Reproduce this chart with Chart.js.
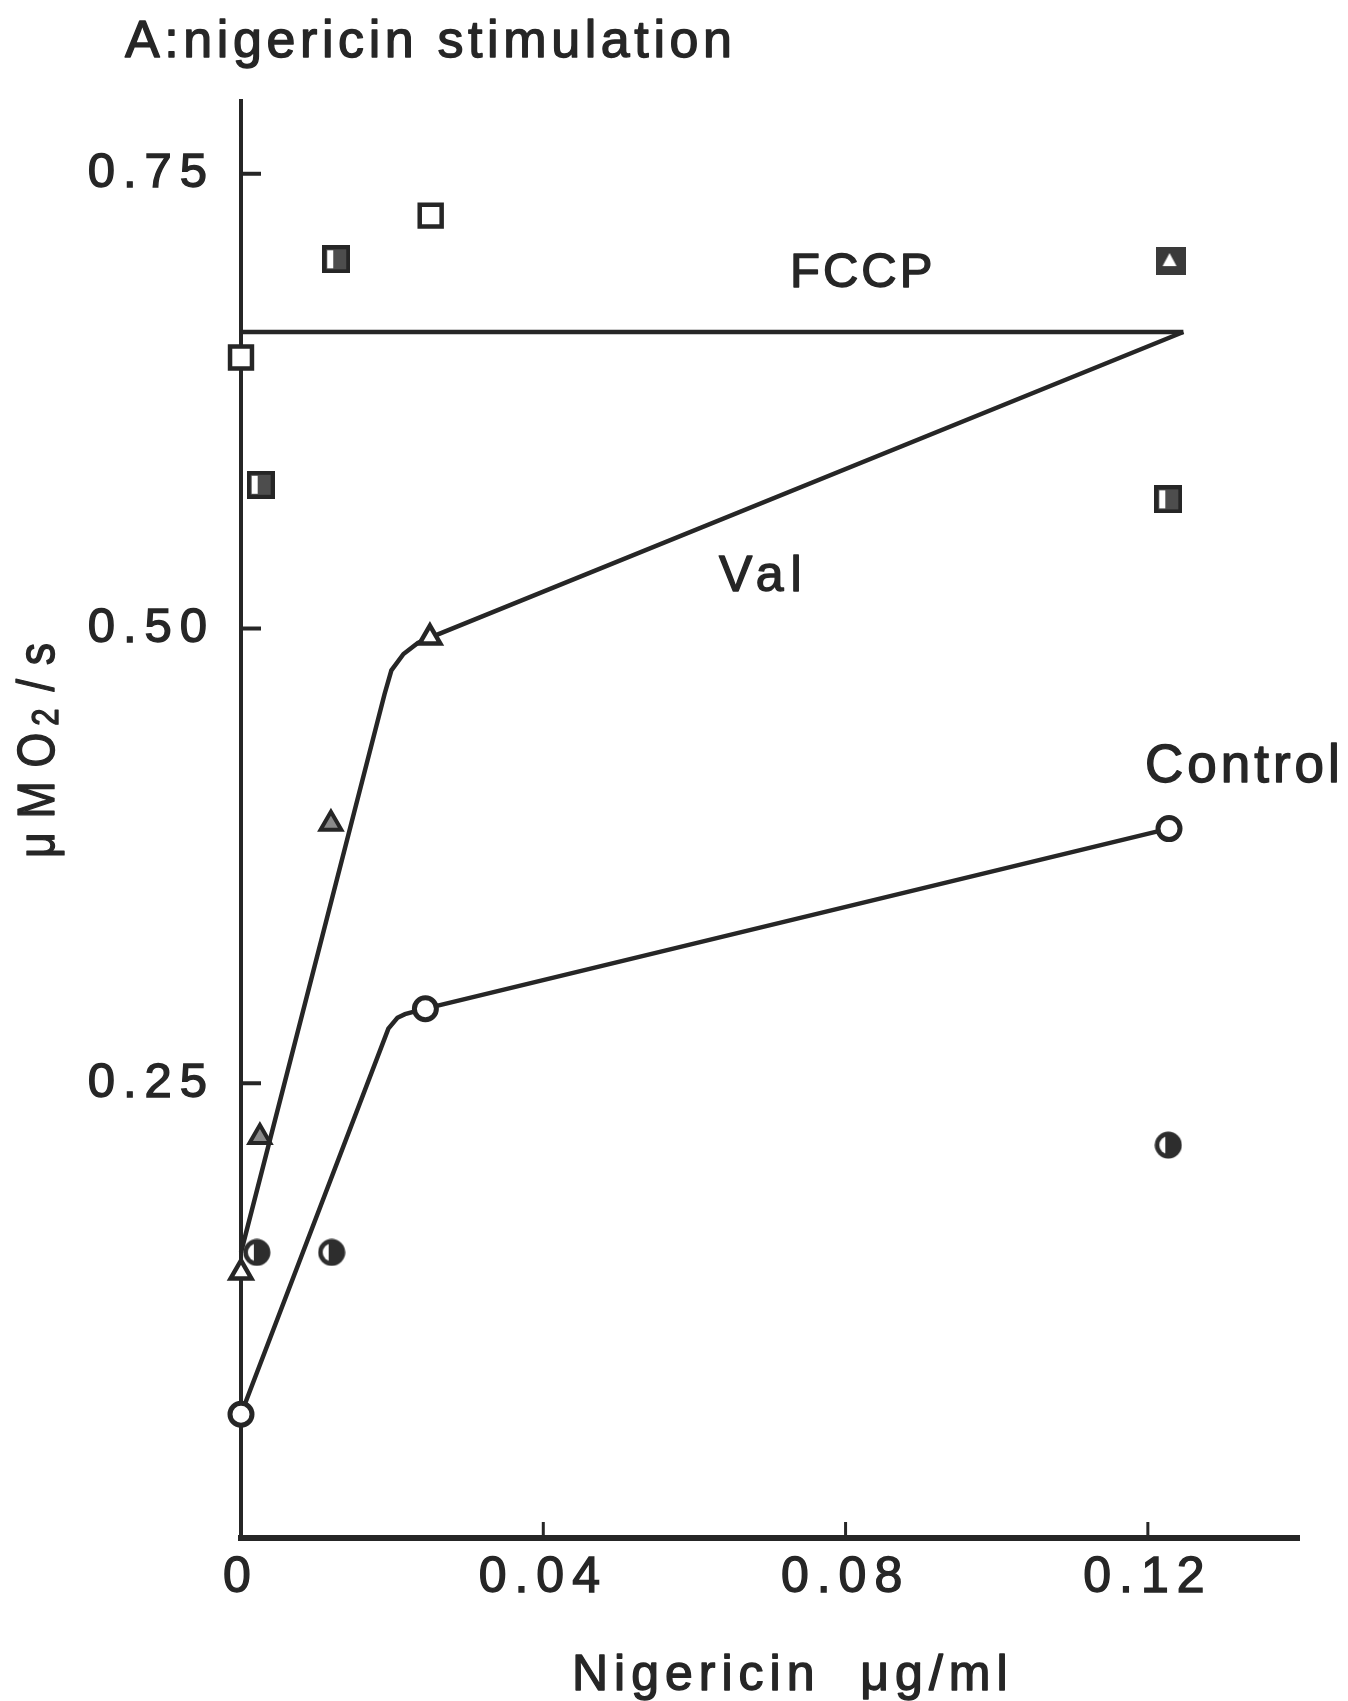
<!DOCTYPE html>
<html>
<head>
<meta charset="utf-8">
<script src="https://cdn.jsdelivr.net/npm/chart.js@4.4.1/dist/chart.umd.min.js"></script>
<style>
  html, body { margin: 0; padding: 0; background: #fff; }
  #wrap { width: 1348px; height: 1701px; }
</style>
</head>
<body>
<div id="wrap"><canvas id="grafico" width="1348" height="1701"></canvas></div>
<script>
// Eixos
const xTicks = [0, 0.04, 0.08, 0.12];
const yTicks = [0.25, 0.50, 0.75];
const xMax = 0.14;
const yMax = 0.79;

// Linha horizontal FCCP
const fccpLinhaX = [0, 0.1247];
const fccpLinhaY = [0.663, 0.663];

// Curva Val (traçada à mão, com joelho perto de 0.02)
const curvaValX = [0, 0.0190, 0.0199, 0.0215, 0.0234, 0.0250, 0.1247];
const curvaValY = [0.157, 0.464, 0.477, 0.486, 0.492, 0.495, 0.663];

// Curva Control
const curvaControlX = [0, 0.0195, 0.0207, 0.0217, 0.0244, 0.1228];
const curvaControlY = [0.068, 0.280, 0.286, 0.288, 0.291, 0.390];

// Pontos: Control (círculos abertos)
const controlX = [0, 0.0244, 0.1228];
const controlY = [0.068, 0.291, 0.390];

// Pontos: Val (triângulos abertos)
const valX = [0, 0.0250];
const valY = [0.146, 0.495];

// Pontos: FCCP (quadrados abertos)
const fccpX = [0, 0.0251];
const fccpY = [0.649, 0.727];

// Quadrados meio cheios
const quadMeioX = [0.0026, 0.0126, 0.1227];
const quadMeioY = [0.579, 0.703, 0.571];

// Círculos meio cheios
const circMeioX = [0.0021, 0.0120, 0.1227];
const circMeioY = [0.157, 0.157, 0.216];

// Triângulos cinza
const triCinzaX = [0.0025, 0.0119];
const triCinzaY = [0.2205, 0.3926];

// Quadrado cheio com triângulo aberto por cima
const quadTriX = [0.123];
const quadTriY = [0.702];

const cor = '#262626';
const fonte = '"Liberation Sans", Arial, Helvetica, sans-serif';

// Junta dois arrays em pontos {x, y}
const pontos = (xs, ys) => xs.map((x, i) => ({ x, y: ys[i] }));

// Marcadores desenhados num canvas pequeno
const criarMarcador = (w, h, desenhar) => {
    const c = document.createElement('canvas');
    c.width = w;
    c.height = h;
    desenhar(c.getContext('2d'), w, h);
    return c;
};

const quadradoMeio = criarMarcador(28, 28, (ctx) => {
    ctx.fillStyle = '#4d4d4d';
    ctx.fillRect(0, 0, 28, 28);
    ctx.strokeStyle = cor;
    ctx.lineWidth = 4;
    ctx.strokeRect(2, 2, 24, 24);
    ctx.fillStyle = '#fff';
    ctx.fillRect(5, 5, 6, 18);
});

const circuloMeio = criarMarcador(28, 28, (ctx) => {
    ctx.fillStyle = '#2d2d2d';
    ctx.beginPath();
    ctx.arc(14, 14, 13.5, 0, Math.PI * 2);
    ctx.fill();
    ctx.save();
    ctx.beginPath();
    ctx.arc(14, 14, 9, 0, Math.PI * 2);
    ctx.clip();
    ctx.fillStyle = '#fff';
    ctx.fillRect(0, 0, 11, 28);
    ctx.restore();
});

const quadradoTriangulo = criarMarcador(30, 28, (ctx) => {
    ctx.fillStyle = '#3a3a3a';
    ctx.fillRect(0, 0, 30, 28);
    ctx.fillStyle = '#fff';
    ctx.beginPath();
    ctx.moveTo(14, 6);
    ctx.lineTo(7, 19);
    ctx.lineTo(21, 19);
    ctx.closePath();
    ctx.fill();
});

// Texto com espaçamento entre letras (traço fino para engrossar)
const escrever = (ctx, texto, x, y, tamanho, esp) => {
    ctx.font = `${tamanho}px ${fonte}`;
    ctx.letterSpacing = esp + 'px';
    ctx.fillText(texto, x, y);
    ctx.strokeText(texto, x, y);
    return ctx.measureText(texto).width;
};

// Plugin: fundo, marcas dos eixos, títulos e rótulos das curvas
const pluginTextos = {
    id: 'textos',
    beforeDraw(chart) {
        const ctx = chart.ctx;
        ctx.save();
        ctx.fillStyle = '#fff';
        ctx.fillRect(0, 0, chart.width, chart.height);
        ctx.restore();
        ctx.letterSpacing = '8px'; // vale para os números dos eixos
    },
    afterDraw(chart) {
        const ctx = chart.ctx;
        const { x, y } = chart.scales;
        ctx.save();

        // marcas dos eixos, para dentro
        ctx.strokeStyle = cor;
        ctx.lineWidth = 4;
        yTicks.forEach(v => {
            const py = y.getPixelForValue(v);
            ctx.beginPath();
            ctx.moveTo(x.left, py);
            ctx.lineTo(x.left + 20, py);
            ctx.stroke();
        });
        ctx.lineWidth = 3;
        xTicks.slice(1).forEach(v => {
            const px = x.getPixelForValue(v);
            ctx.beginPath();
            ctx.moveTo(px, y.bottom);
            ctx.lineTo(px, y.bottom - 16);
            ctx.stroke();
        });

        ctx.fillStyle = cor;
        ctx.strokeStyle = cor;
        ctx.lineWidth = 1.4;
        ctx.lineJoin = 'round';
        ctx.textAlign = 'left';
        ctx.textBaseline = 'alphabetic';

        // título
        escrever(ctx, 'A:nigericin stimulation', 125, 57, 52, 4.6);

        // rótulos das curvas
        escrever(ctx, 'FCCP', 790, 287, 49, 3);
        escrever(ctx, 'Val', 719, 591, 50, 7);
        escrever(ctx, 'Control', 1145, 782, 53, 4);

        // título do eixo x
        escrever(ctx, 'Nigericin  μg/ml', 572, 1690, 50, 6);

        // título do eixo y (girado, com O subscrito 2)
        ctx.save();
        ctx.translate(54, 858);
        ctx.rotate(-Math.PI / 2);
        ctx.scale(0.86, 1);
        let pos = 0;
        const gap = 16;
        pos += escrever(ctx, 'μ', pos, 0, 52, 0) + gap;
        pos += escrever(ctx, 'M', pos, 0, 52, 0) + gap;
        pos += escrever(ctx, 'O', pos, 0, 52, 0) + 8;
        pos += escrever(ctx, '2', pos, 4, 36, 0) + gap + 4;
        pos += escrever(ctx, '/', pos, 0, 52, 0) + gap;
        escrever(ctx, 's', pos, 0, 52, 0);
        ctx.restore();

        ctx.restore();
    }
};

const linha = (dados, ordem) => ({
    data: dados,
    showLine: true,
    borderColor: cor,
    borderWidth: 4.5,
    pointRadius: 0,
    tension: 0,
    clip: false,
    order: ordem
});

const marcador = (dados, extra) => Object.assign({
    data: dados,
    showLine: false,
    clip: false,
    order: 1,
    borderColor: cor,
    backgroundColor: '#fff',
    borderWidth: 5,
    pointHoverRadius: 0
}, extra);

const grafico = new Chart(document.getElementById('grafico'), {
    type: 'scatter',
    data: {
        datasets: [
            linha(pontos(fccpLinhaX, fccpLinhaY), 10),
            linha(pontos(curvaValX, curvaValY), 10),
            linha(pontos(curvaControlX, curvaControlY), 10),
            marcador(pontos(controlX, controlY), { pointStyle: 'circle', pointRadius: 11 }),
            marcador(pontos(valX, valY), { pointStyle: 'triangle', pointRadius: 12, borderWidth: 4.5 }),
            marcador(pontos(fccpX, fccpY), { pointStyle: 'rect', pointRadius: 15.5, borderWidth: 4.5 }),
            marcador(pontos(quadMeioX, quadMeioY), { pointStyle: quadradoMeio, pointRadius: 14 }),
            marcador(pontos(circMeioX, circMeioY), { pointStyle: circuloMeio, pointRadius: 14 }),
            marcador(pontos(triCinzaX, triCinzaY), { pointStyle: 'triangle', pointRadius: 12, backgroundColor: '#8a8a8a', borderWidth: 4 }),
            marcador(pontos(quadTriX, quadTriY), { pointStyle: quadradoTriangulo, pointRadius: 14 })
        ]
    },
    options: {
        responsive: false,
        animation: false,
        devicePixelRatio: 1,
        events: [],
        layout: { padding: { left: 0, right: 49, top: 101, bottom: 0 } },
        plugins: { legend: { display: false }, tooltip: { enabled: false } },
        scales: {
            x: {
                type: 'linear',
                min: 0,
                max: xMax,
                afterFit: (s) => { s.height = 163; },
                afterBuildTicks: (s) => { s.ticks = xTicks.map(v => ({ value: v })); },
                grid: { display: false, drawTicks: false },
                border: { display: true, color: cor, width: 6 },
                ticks: {
                    color: cor,
                    textStrokeColor: cor,
                    textStrokeWidth: 1.4,
                    font: { size: 50, family: fonte },
                    padding: 10,
                    maxRotation: 0,
                    autoSkip: false,
                    callback: v => v === 0 ? '0' : v.toFixed(2)
                }
            },
            y: {
                type: 'linear',
                min: 0,
                max: yMax,
                afterFit: (s) => { s.width = 241; },
                afterBuildTicks: (s) => { s.ticks = yTicks.map(v => ({ value: v })); },
                grid: { display: false, drawTicks: false },
                border: { display: true, color: cor, width: 4 },
                ticks: {
                    color: cor,
                    textStrokeColor: cor,
                    textStrokeWidth: 1.4,
                    font: { size: 49, family: fonte },
                    padding: 26,
                    autoSkip: false,
                    callback: v => v.toFixed(2)
                }
            }
        }
    },
    plugins: [pluginTextos]
});
</script>
</body>
</html>
